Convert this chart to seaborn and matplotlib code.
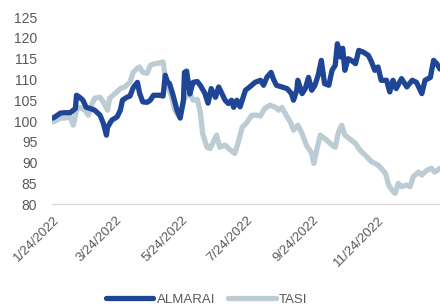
import matplotlib
matplotlib.use("Agg")
import matplotlib.pyplot as plt
import seaborn as sns
import pandas as pd
from matplotlib.lines import Line2D

almarai_dates = [
    "2022-01-24", "2022-01-27", "2022-01-31", "2022-02-04", "2022-02-09", "2022-02-14", "2022-02-15",
    "2022-02-18", "2022-02-21", "2022-02-24", "2022-02-28", "2022-03-04", "2022-03-09", "2022-03-12",
    "2022-03-15", "2022-03-16", "2022-03-20", "2022-03-25", "2022-03-28", "2022-03-30", "2022-04-03",
    "2022-04-06", "2022-04-09", "2022-04-13", "2022-04-15", "2022-04-18", "2022-04-22", "2022-04-25",
    "2022-04-28", "2022-05-01", "2022-05-04", "2022-05-07", "2022-05-09", "2022-05-11", "2022-05-13",
    "2022-05-16", "2022-05-20", "2022-05-23", "2022-05-26", "2022-05-27", "2022-05-29", "2022-06-01",
    "2022-06-04", "2022-06-08", "2022-06-11", "2022-06-15", "2022-06-18", "2022-06-21", "2022-06-25",
    "2022-06-28", "2022-07-01", "2022-07-04", "2022-07-07", "2022-07-10", "2022-07-12", "2022-07-15",
    "2022-07-18", "2022-07-23", "2022-07-27", "2022-08-01", "2022-08-06", "2022-08-09", "2022-08-12",
    "2022-08-16", "2022-08-18", "2022-08-21", "2022-08-26", "2022-08-31", "2022-09-04", "2022-09-06",
    "2022-09-09", "2022-09-10", "2022-09-14", "2022-09-17", "2022-09-20", "2022-09-23", "2022-09-26",
    "2022-09-29", "2022-10-02", "2022-10-05", "2022-10-09", "2022-10-12", "2022-10-15", "2022-10-17",
    "2022-10-20", "2022-10-22", "2022-10-24", "2022-10-27", "2022-10-30", "2022-11-03", "2022-11-06",
    "2022-11-10", "2022-11-15", "2022-11-18", "2022-11-21", "2022-11-24", "2022-11-27", "2022-12-02",
    "2022-12-05", "2022-12-08", "2022-12-11", "2022-12-16", "2022-12-21", "2022-12-26", "2022-12-30",
    "2023-01-04", "2023-01-07", "2023-01-12", "2023-01-15", "2023-01-18", "2023-01-21",
]
almarai_values = [
    100.7, 101.2, 101.9, 102.0, 102.0, 103.0, 106.2,
    105.7, 105.0, 103.3, 103.0, 102.6, 101.4, 99.5,
    96.6, 98.5, 100.2, 101.0, 102.6, 105.0, 105.7,
    106.0, 108.0, 109.3, 106.7, 104.6, 104.5, 105.0,
    106.2, 106.2, 106.2, 106.0, 111.0, 109.5, 109.0,
    106.5, 102.6, 100.7, 105.0, 111.7, 112.0, 106.5,
    109.3, 109.5, 108.5, 106.7, 104.3, 107.8, 105.7,
    108.2, 106.6, 105.0, 104.2, 105.0, 103.3, 105.0,
    103.4, 107.4, 108.2, 109.3, 109.8, 108.6, 110.5,
    111.7, 110.2, 108.6, 108.2, 107.8, 106.6, 105.0,
    107.4, 109.8, 106.6, 107.8, 110.5, 107.4, 108.6,
    111.0, 114.6, 109.0, 108.6, 112.2, 113.4, 118.6,
    115.4, 117.5, 112.2, 115.0, 114.6, 113.8, 117.0,
    116.6, 115.8, 114.2, 112.2, 113.0, 109.8, 109.8,
    107.0, 109.8, 107.8, 110.2, 108.2, 109.8, 109.3,
    106.6, 109.8, 110.5, 114.6, 113.8, 112.5,
]

tasi_dates = [
    "2022-01-24", "2022-01-26", "2022-01-31", "2022-02-04", "2022-02-09", "2022-02-12", "2022-02-15",
    "2022-02-18", "2022-02-23", "2022-02-26", "2022-03-01", "2022-03-04", "2022-03-09", "2022-03-12",
    "2022-03-16", "2022-03-18", "2022-03-23", "2022-03-28", "2022-04-01", "2022-04-06", "2022-04-09",
    "2022-04-13", "2022-04-15", "2022-04-18", "2022-04-22", "2022-04-25", "2022-04-29", "2022-05-04",
    "2022-05-07", "2022-05-09", "2022-05-12", "2022-05-15", "2022-05-18", "2022-05-21", "2022-05-25",
    "2022-05-27", "2022-06-01", "2022-06-04", "2022-06-08", "2022-06-11", "2022-06-13", "2022-06-17",
    "2022-06-20", "2022-06-23", "2022-06-26", "2022-06-29", "2022-07-04", "2022-07-09", "2022-07-13",
    "2022-07-16", "2022-07-20", "2022-07-24", "2022-07-29", "2022-08-03", "2022-08-06", "2022-08-10",
    "2022-08-15", "2022-08-20", "2022-08-23", "2022-08-26", "2022-08-31", "2022-09-03", "2022-09-06",
    "2022-09-10", "2022-09-14", "2022-09-18", "2022-09-23", "2022-09-25", "2022-09-28", "2022-10-01",
    "2022-10-04", "2022-10-07", "2022-10-12", "2022-10-15", "2022-10-18", "2022-10-21", "2022-10-24",
    "2022-10-27", "2022-10-30", "2022-11-03", "2022-11-06", "2022-11-09", "2022-11-12", "2022-11-15",
    "2022-11-18", "2022-11-21", "2022-11-24", "2022-11-27", "2022-12-01", "2022-12-04", "2022-12-07",
    "2022-12-10", "2022-12-13", "2022-12-16", "2022-12-21", "2022-12-24", "2022-12-27", "2023-01-01",
    "2023-01-04", "2023-01-09", "2023-01-13", "2023-01-16", "2023-01-21",
]
tasi_values = [
    99.8, 100.0, 100.7, 100.7, 101.0, 99.0, 102.6,
    103.3, 102.6, 101.4, 103.8, 105.5, 105.7, 104.6,
    102.6, 105.5, 106.6, 107.8, 108.2, 109.3, 111.7,
    112.7, 113.0, 111.7, 111.5, 113.4, 113.8, 114.0,
    114.2, 110.5, 108.2, 105.7, 102.6, 101.4, 103.3,
    105.5, 106.6, 105.0, 105.2, 101.8, 97.0, 93.7,
    93.4, 95.0, 96.6, 93.7, 94.2, 93.0, 92.2,
    94.6, 98.5, 99.5, 101.4, 101.4, 101.2, 103.0,
    103.8, 103.3, 102.6, 103.3, 101.0, 99.8, 97.8,
    99.0, 97.0, 94.2, 92.2, 89.8, 93.4, 96.6,
    96.0, 95.4, 94.2, 93.7, 97.3, 99.0, 96.6,
    96.0, 95.4, 94.6, 93.4, 92.5, 91.8, 91.0,
    90.2, 89.8, 89.4, 88.6, 87.4, 84.6, 83.4,
    82.6, 85.0, 84.2, 84.6, 84.2, 86.6, 87.7,
    87.0, 88.2, 88.6, 87.7, 88.6,
]

series_names = ["ALMARAI", "TASI"]
tick_dates = ["2022-01-24", "2022-03-24", "2022-05-24", "2022-07-24", "2022-09-24", "2022-11-24"]
y_ticks = [80, 85, 90, 95, 100, 105, 110, 115, 120, 125]

df = pd.concat([
    pd.DataFrame({"date": pd.to_datetime(almarai_dates), "value": almarai_values, "series": series_names[0]}),
    pd.DataFrame({"date": pd.to_datetime(tasi_dates), "value": tasi_values, "series": series_names[1]}),
], ignore_index=True)

sns.set_theme(style="white")
plt.rcParams["font.family"] = ["Liberation Sans", "DejaVu Sans"]

fig = plt.figure(figsize=(4.4, 3.06), dpi=100)
ax = fig.add_axes([0.118, 0.333, 0.882, 0.611])

palette = {"ALMARAI": "#1F4696", "TASI": "#BCCBD4"}
LW = 3.8
sns.lineplot(data=df, x="date", y="value", hue="series", hue_order=["TASI", "ALMARAI"],
             palette=palette, linewidth=LW, ax=ax, legend=False, sort=True)
for ln in ax.get_lines():
    ln.set_solid_capstyle("round")
    ln.set_solid_joinstyle("round")

ax.set_xlim(pd.Timestamp("2022-01-23"), pd.Timestamp("2023-01-21"))
ax.set_ylim(80, 125)
ax.set_yticks(y_ticks)
ax.set_yticklabels([str(v) for v in y_ticks], fontsize=10, color="#595959")
ticks = pd.to_datetime(tick_dates)
ax.set_xticks(ticks)
ax.set_xticklabels([f"{d.month}/{d.day}/{d.year}" for d in ticks], rotation=45,
                   ha="right", rotation_mode="anchor", fontsize=9.5, color="#595959")
ax.tick_params(axis="x", length=0, pad=7)
ax.tick_params(axis="y", length=0, pad=10.5)
ax.set_xlabel("")
ax.set_ylabel("")
for s in ["top", "right", "left"]:
    ax.spines[s].set_visible(False)
ax.spines["bottom"].set_color("#D9D9D9")
ax.spines["bottom"].set_linewidth(1.0)
ax.grid(False)

handles = [Line2D([], [], color=palette[n], linewidth=LW, solid_capstyle="round") for n in series_names]
leg = fig.legend(handles, series_names, loc="center", bbox_to_anchor=(0.47, 0.02), ncol=2,
                 frameon=False, fontsize=9.5, handlelength=3.6, handletextpad=0.25, columnspacing=1.0)
for t in leg.get_texts():
    t.set_color("#595959")

fig.savefig("out.png", dpi=100)
